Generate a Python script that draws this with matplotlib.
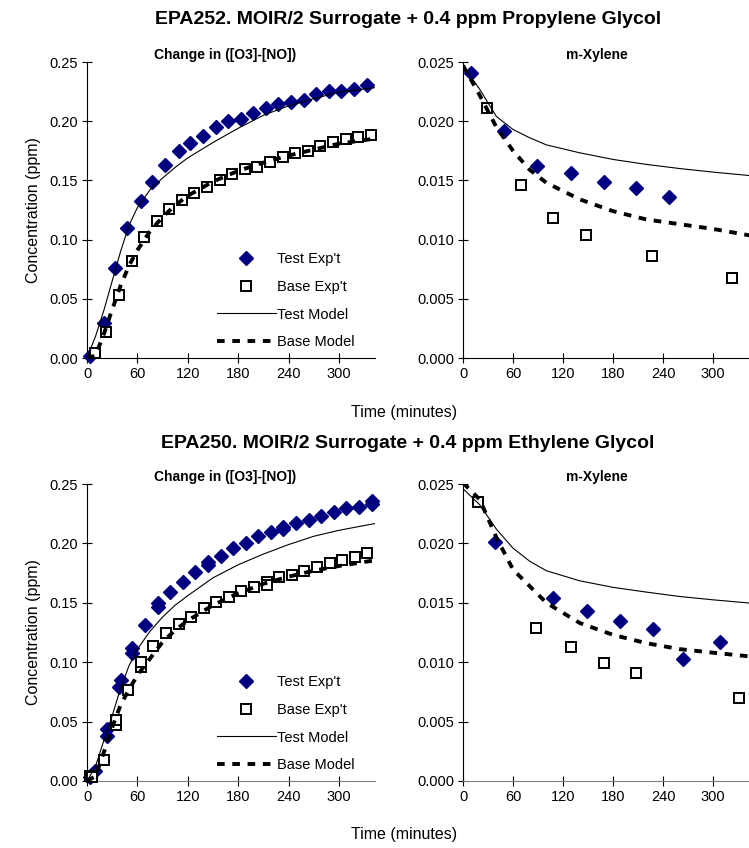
import matplotlib
matplotlib.use("Agg")
import matplotlib.pyplot as plt
import numpy as np

plt.rcParams['font.family'] = ['Liberation Sans', 'DejaVu Sans']
plt.rcParams['lines.scale_dashes'] = False

# ---------------- EPA252 (Propylene Glycol) ----------------
# Change in ([O3]-[NO])
t252_test_exp = [3, 20, 33, 48, 64, 78, 93, 109, 123, 138, 154, 168, 183, 198, 213, 228, 243, 258, 273, 288, 303, 318, 334]
d252_test_exp = [0.002, 0.0295, 0.0756, 0.1095, 0.133, 0.149, 0.163, 0.1747, 0.182, 0.1876, 0.1947, 0.200, 0.2022, 0.207,
                 0.211, 0.2149, 0.2163, 0.2183, 0.223, 0.2256, 0.2256, 0.227, 0.2306]
t252_base_exp = [9, 23, 38, 53, 68, 83, 98, 113, 128, 143, 158, 173, 188, 203, 218, 233, 248, 263, 278, 293, 308, 323, 338]
d252_base_exp = [0.0042, 0.0219, 0.0534, 0.0823, 0.102, 0.1157, 0.1258, 0.1331, 0.139, 0.1444, 0.150, 0.1553, 0.1596,
                 0.1615, 0.1654, 0.170, 0.1728, 0.1747, 0.179, 0.1823, 0.185, 0.1868, 0.1882]
t_model_o3 = [0, 10, 20, 30, 40, 50, 60, 75, 90, 105, 120, 150, 180, 210, 240, 270, 300, 345]
d252_test_model = [0, 0.018, 0.040, 0.065, 0.090, 0.112, 0.127, 0.142, 0.152, 0.161, 0.169, 0.182, 0.194, 0.205, 0.213, 0.219, 0.2245, 0.2285]
d252_base_model = [0, 0.002, 0.020, 0.041, 0.061, 0.078, 0.091, 0.107, 0.119, 0.129, 0.137, 0.149, 0.158, 0.165, 0.171, 0.176, 0.181, 0.1855]

# m-Xylene
t252_test_xyl = [9, 49, 89, 129, 169, 208, 247]
x252_test_xyl = [0.0241, 0.01917, 0.0162, 0.01559, 0.01485, 0.01432, 0.01361]
t252_base_xyl = [29, 69, 108, 148, 227, 323]
x252_base_xyl = [0.02114, 0.01463, 0.01184, 0.01037, 0.0086, 0.00679]
t_model_xyl = [0, 20, 40, 60, 80, 100, 140, 180, 220, 260, 300, 345]
x252_test_model = [0.0247, 0.0227, 0.0204, 0.0193, 0.0186, 0.0180, 0.01733, 0.01677, 0.01635, 0.0160, 0.0157, 0.0154]
x252_base_model = [0.0247, 0.0222, 0.0195, 0.0175, 0.0159, 0.0148, 0.0134, 0.0124, 0.0117, 0.0113, 0.0109, 0.01034]

# ---------------- EPA250 (Ethylene Glycol) ----------------
t250_test_exp = [4, 9, 24, 24, 38, 40, 54, 54, 69, 84, 84, 99, 114, 129, 144, 144, 159, 174, 189, 204, 219, 234, 234,
                 249, 264, 279, 294, 309, 324, 339, 339]
d250_test_exp = [0.003, 0.0085, 0.038, 0.044, 0.079, 0.085, 0.108, 0.112, 0.131, 0.1467, 0.1495, 0.159, 0.1678, 0.176,
                 0.182, 0.184, 0.189, 0.196, 0.200, 0.2065, 0.210, 0.212, 0.214, 0.217, 0.220, 0.223, 0.2267, 0.2295,
                 0.2304, 0.2332, 0.236]
t250_base_exp = [4, 6, 20, 34, 34, 49, 64, 64, 79, 94, 109, 124, 139, 154, 169, 184, 199, 214, 214, 229, 244, 259, 274,
                 289, 304, 319, 334]
d250_base_exp = [0.004, 0.003, 0.0177, 0.047, 0.051, 0.0766, 0.0962, 0.0999, 0.1136, 0.1243, 0.1321, 0.1383, 0.1453,
                 0.151, 0.155, 0.160, 0.1636, 0.1678, 0.1650, 0.1714, 0.1734, 0.177, 0.1804, 0.1832, 0.186, 0.1883, 0.192]
d250_test_model = [0, 0.012, 0.034, 0.055, 0.078, 0.097, 0.111, 0.126, 0.138, 0.148, 0.156, 0.171, 0.182, 0.191, 0.199, 0.206, 0.211, 0.217]
d250_base_model = [0, 0.004, 0.024, 0.045, 0.064, 0.077, 0.089, 0.103, 0.117, 0.127, 0.135, 0.148, 0.158, 0.166, 0.172, 0.177, 0.181, 0.186]

t250_test_xyl = [38, 108, 149, 188, 228, 264, 308]
x250_test_xyl = [0.0201, 0.0154, 0.01433, 0.01343, 0.01278, 0.01031, 0.01169]
t250_base_xyl = [18, 88, 129, 169, 208, 331]
x250_base_xyl = [0.02348, 0.01287, 0.01124, 0.00992, 0.00907, 0.00702]
x250_test_model = [0.0246, 0.02326, 0.0212, 0.0196, 0.0185, 0.0177, 0.01685, 0.0163, 0.0159, 0.01553, 0.01525, 0.01497]
x250_base_model = [0.0251, 0.0237, 0.0205, 0.0178, 0.0164, 0.0150, 0.0133, 0.0123, 0.0116, 0.0111, 0.0108, 0.01048]

titles = ["EPA252. MOIR/2 Surrogate + 0.4 ppm Propylene Glycol",
          "EPA250. MOIR/2 Surrogate + 0.4 ppm Ethylene Glycol"]
x_ticks = [0, 60, 120, 180, 240, 300]

NAVY = '#000080'
W, H = 749, 848
fig = plt.figure(figsize=(W / 100, H / 100), dpi=100)


def ax_at(x0, y_top, x1, y_bot):
    return fig.add_axes([x0 / W, 1 - y_bot / H, (x1 - x0) / W, (y_bot - y_top) / H])


def style(ax, ymax, ystep, fmt, xcolor='black'):
    for s in ['top', 'right']:
        ax.spines[s].set_visible(False)
    ax.spines['left'].set_color('black')
    ax.spines['bottom'].set_color(xcolor)
    ax.set_xlim(0, 343)
    ax.set_ylim(0, ymax)
    ax.set_xticks(x_ticks)
    ax.set_yticks(np.arange(0, ymax + ystep / 2, ystep))
    ax.yaxis.set_major_formatter(matplotlib.ticker.FormatStrFormatter(fmt))
    ax.tick_params(direction='inout', length=7, width=0.8, labelsize=10.5, pad=3)
    ax.patch.set_alpha(0)


def o3_panel(ax, te_t, te_d, be_t, be_d, tm, bm, xcolor):
    ax.plot(te_t, te_d, linestyle='none', marker='D', markersize=7, color=NAVY, mec=NAVY, label="Test Exp't", clip_on=False, zorder=3)
    ax.plot(be_t, be_d, linestyle='none', marker='s', markersize=7.5, mfc='white', mec='black', mew=1.4, label="Base Exp't", clip_on=False, zorder=4)
    ax.plot(t_model_o3, tm, color='black', lw=0.8, label='Test Model', zorder=5)
    ax.plot(t_model_o3, bm, color='black', lw=2.8, linestyle=(0, (5.5, 5.5)), label='Base Model', zorder=5)
    style(ax, 0.25, 0.05, '%.2f', xcolor)
    ax.set_title('Change in ([O3]-[NO])', fontsize=10, fontweight='bold', x=0.479, pad=2)
    ax.set_ylabel('Concentration (ppm)', fontsize=11.5, labelpad=6)
    ax.legend(loc='lower left', bbox_to_anchor=(0.452, 0.029), frameon=False, fontsize=10.5,
              handlelength=4.0, handletextpad=0.1, labelspacing=0.95, borderpad=0, borderaxespad=0)


def xyl_panel(ax, te_t, te_d, be_t, be_d, tm, bm, xcolor):
    ax.plot(te_t, te_d, linestyle='none', marker='D', markersize=7, color=NAVY, mec=NAVY, clip_on=False, zorder=3)
    ax.plot(be_t, be_d, linestyle='none', marker='s', markersize=7.5, mfc='white', mec='black', mew=1.4, clip_on=False, zorder=4)
    ax.plot(t_model_xyl, tm, color='black', lw=0.8, zorder=5)
    ax.plot(t_model_xyl, bm, color='black', lw=2.8, linestyle=(0, (5.5, 5.5)), zorder=5)
    style(ax, 0.025, 0.005, '%.3f', xcolor)
    ax.set_title('m-Xylene', fontsize=10, fontweight='bold', x=0.468, pad=2)


ax1 = ax_at(87, 62, 375, 358)
ax2 = ax_at(463, 62, 749, 358)
ax3 = ax_at(87, 484, 375, 781)
ax4 = ax_at(463, 484, 749, 781)

o3_panel(ax1, t252_test_exp, d252_test_exp, t252_base_exp, d252_base_exp, d252_test_model, d252_base_model, 'black')
xyl_panel(ax2, t252_test_xyl, x252_test_xyl, t252_base_xyl, x252_base_xyl, x252_test_model, x252_base_model, 'black')
o3_panel(ax3, t250_test_exp, d250_test_exp, t250_base_exp, d250_base_exp, d250_test_model, d250_base_model, '#808080')
xyl_panel(ax4, t250_test_xyl, x250_test_xyl, t250_base_xyl, x250_base_xyl, x250_test_model, x250_base_model, '#808080')

fig.text(408 / W, 1 - 20 / H, titles[0], ha='center', va='center', fontsize=14, fontweight='bold')
fig.text(404 / W, 1 - 412 / H, 'Time (minutes)', ha='center', va='center', fontsize=11.5)
fig.text(408 / W, 1 - 443 / H, titles[1], ha='center', va='center', fontsize=14, fontweight='bold')
fig.text(404 / W, 1 - 835 / H, 'Time (minutes)', ha='center', va='center', fontsize=11.5)

fig.savefig('out.png', dpi=100)
